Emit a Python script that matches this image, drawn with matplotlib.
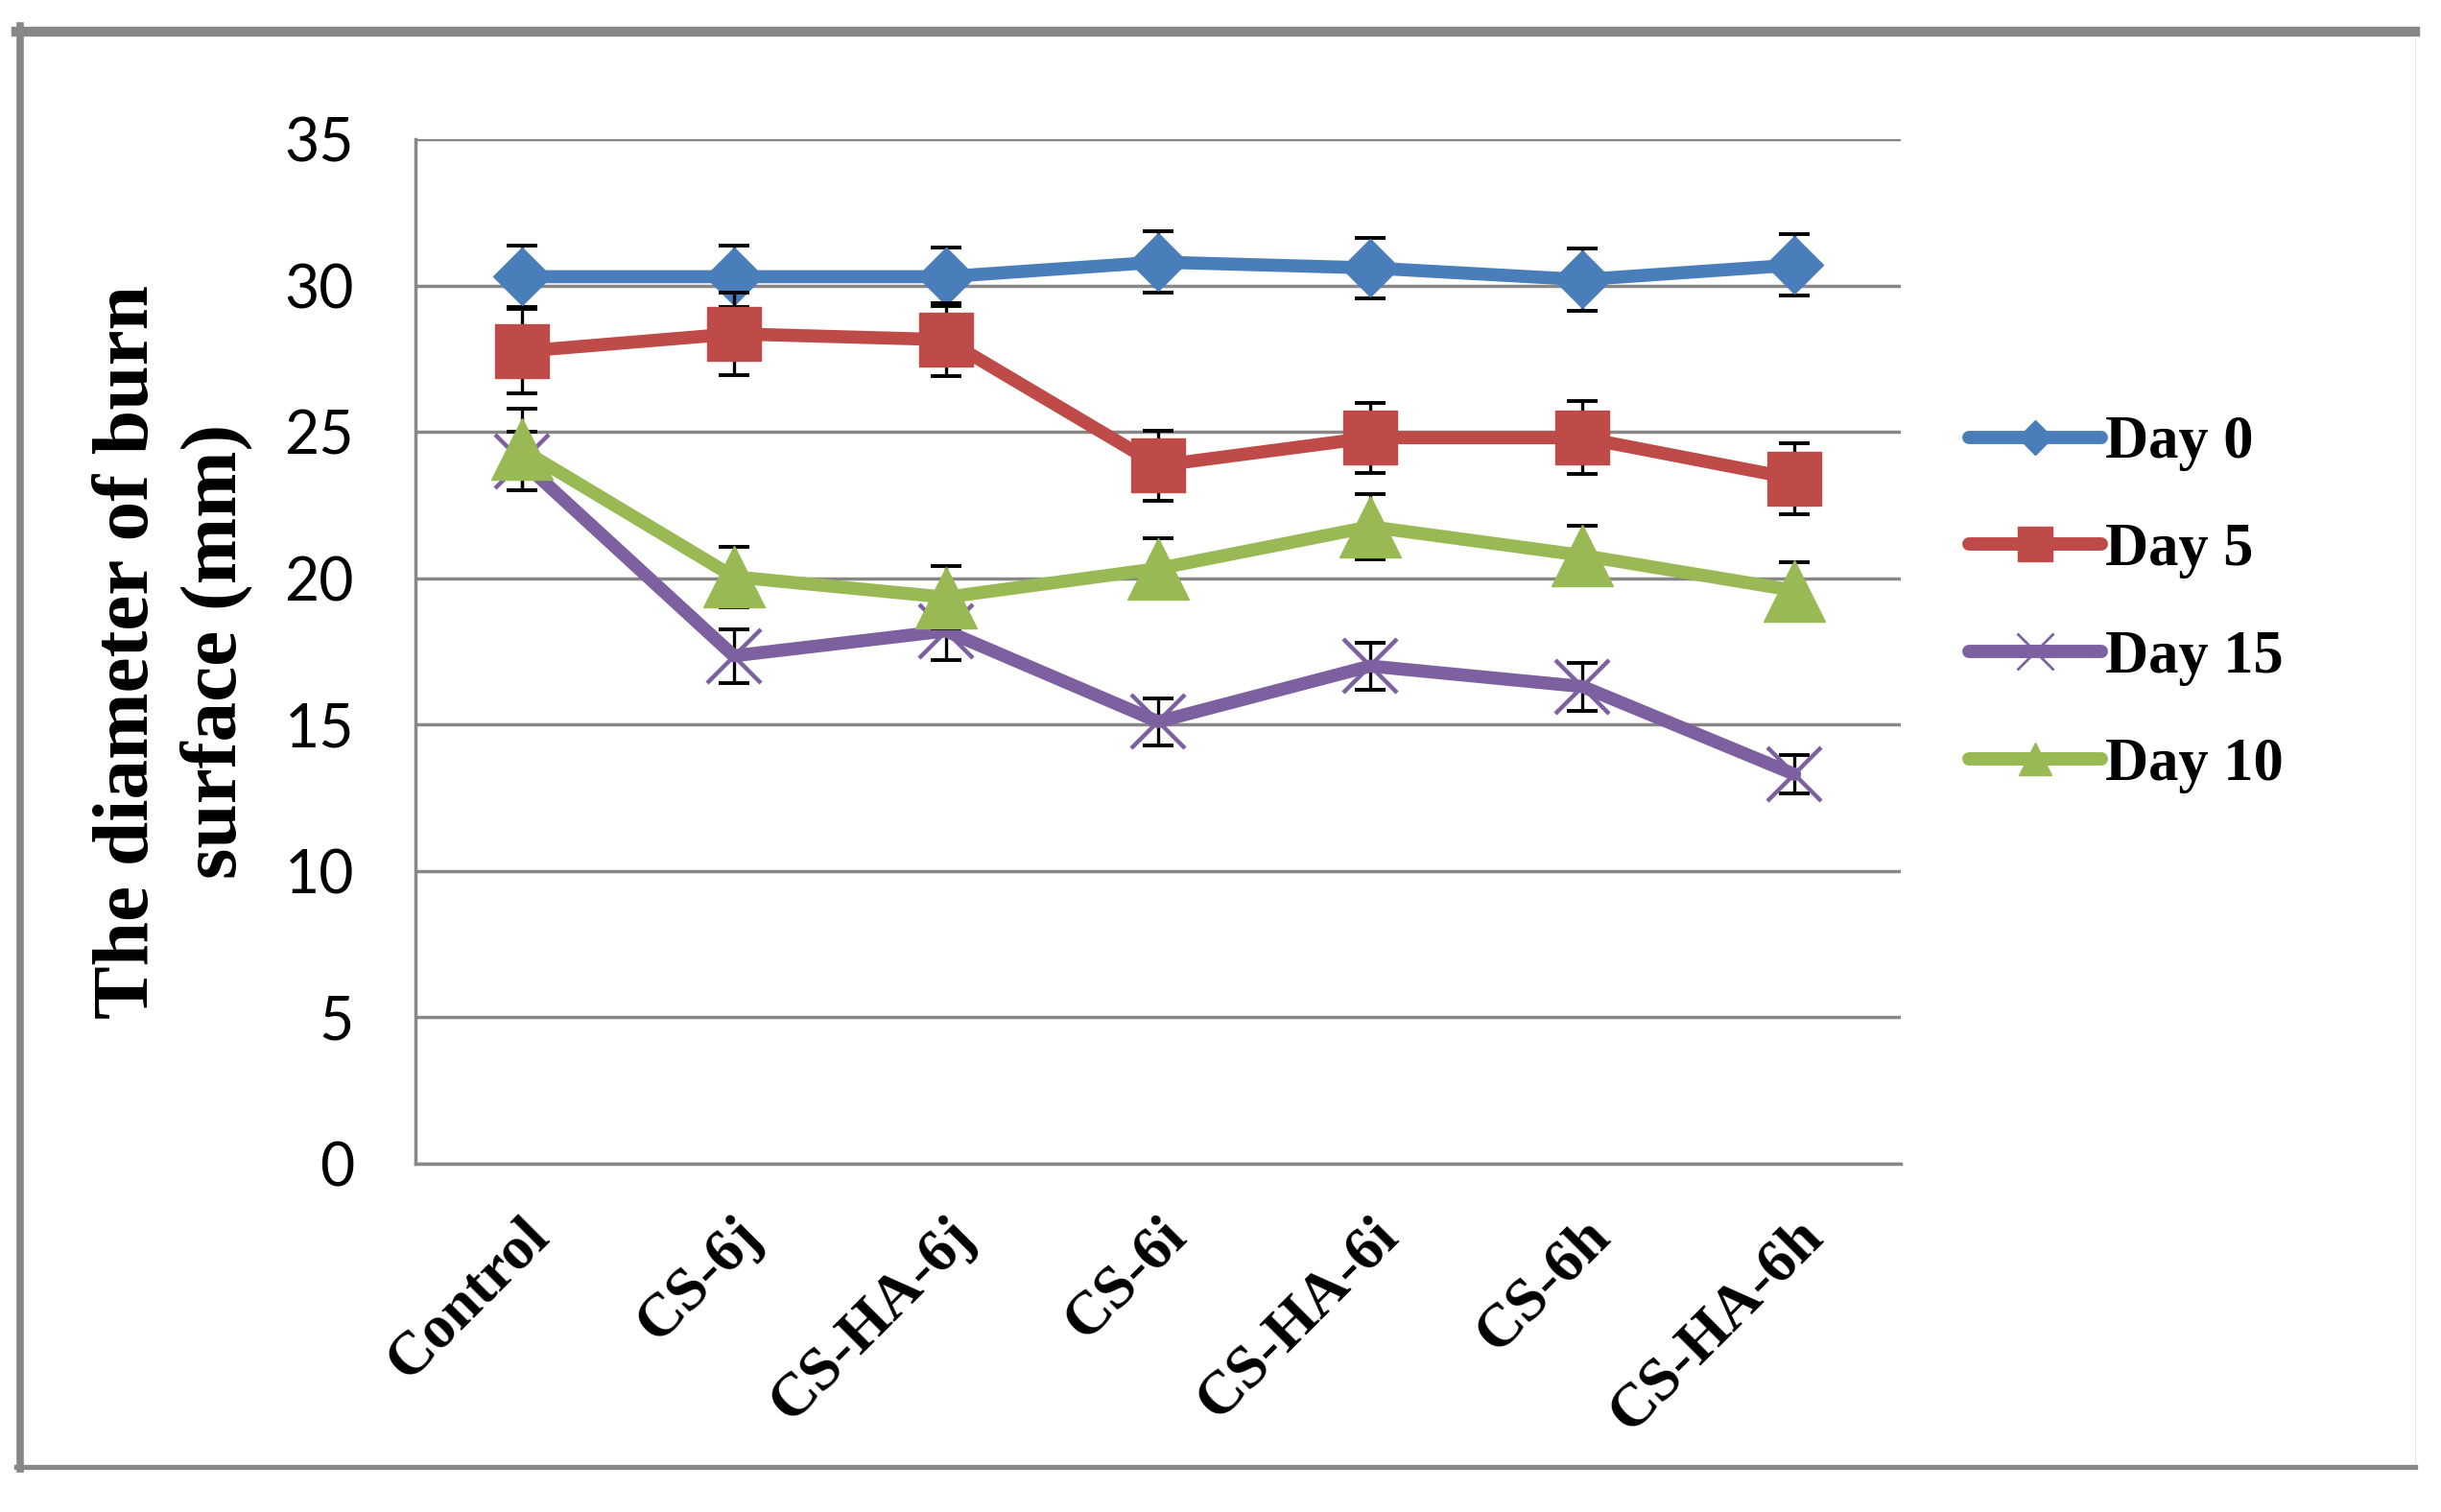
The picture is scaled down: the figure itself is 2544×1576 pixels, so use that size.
import matplotlib
matplotlib.use("Agg")
import matplotlib.pyplot as plt
from matplotlib.lines import Line2D

plt.rcParams['font.family'] = ['Liberation Serif', 'DejaVu Sans']

categories = ["Control", "CS-6j", "CS-HA-6j", "CS-6i", "CS-HA-6i", "CS-6h", "CS-HA-6h"]
series_names = ["Day 0", "Day 5", "Day 15", "Day 10"]

day0 = [30.3, 30.3, 30.3, 30.8, 30.6, 30.2, 30.7]
day0_err = [1.05, 1.05, 1.0, 1.05, 1.03, 1.05, 1.05]
day5 = [27.75, 28.35, 28.15, 23.85, 24.8, 24.8, 23.4]
day5_err = [1.45, 1.4, 1.25, 1.2, 1.2, 1.25, 1.2]
day15 = [24.0, 17.35, 18.2, 15.1, 17.0, 16.3, 13.3]
day15_err = [1.0, 0.92, 1.0, 0.8, 0.8, 0.82, 0.66]
day10 = [24.4, 20.05, 19.35, 20.33, 21.76, 20.78, 19.58]
day10_err = [1.4, 1.03, 1.07, 1.03, 1.1, 1.0, 0.97]

y_ticks = [0, 5, 10, 15, 20, 25, 30, 35]

values = [day0, day5, day15, day10]
errors = [day0_err, day5_err, day15_err, day10_err]
colors = ["#4A7EBB", "#BE4B48", "#7D60A0", "#98B954"]
markers = ["D", "s", "x", "^"]
msizes = [31, 40, 40, 46]
leg_msizes = [18, 26, 27, 25]

W, H = 2544, 1576
fig = plt.figure(figsize=(W / 100, H / 100), dpi=100)
ax = fig.add_axes([433 / W, 1 - 1213 / H, (1981 - 433) / W, (1213 - 145) / H])

x = list(range(len(categories)))
handles = []
for i, (name, vals, errs, c, m, ms, lms) in enumerate(
        zip(series_names, values, errors, colors, markers, msizes, leg_msizes)):
    z = 3 + i
    ax.errorbar(x, vals, yerr=errs, fmt='none', ecolor='black', elinewidth=2.4,
                capsize=11.5, capthick=2.8, zorder=z)
    mew = 3.2 if m == 'x' else 1.0
    ax.plot(x, vals, color=c, lw=9.8, marker=m, markersize=ms, mfc=c, mec=c,
            mew=mew, solid_joinstyle='round', solid_capstyle='round', zorder=z + 0.5)
    handles.append(Line2D([0], [0], color=c, lw=10, marker=m, markersize=lms,
                          mfc=c, mec=c, mew=2.0 if m == 'x' else 1.0,
                          solid_capstyle='round'))

ax.set_xlim(-0.5, len(categories) - 0.5)
ax.set_ylim(0, 35)
ax.set_yticks(y_ticks)
ax.set_yticklabels([str(t) for t in y_ticks], family=['Lato', 'DejaVu Sans'], fontsize=45)
ax.set_xticks(x)
ax.set_xticklabels(categories, rotation=45, ha='right', va='top',
                   fontsize=46, fontweight='bold')
for lab in ax.get_xticklabels():
    lab.set_rotation_mode('anchor')

ax.tick_params(axis='y', length=0, pad=46)
ax.tick_params(axis='x', length=0, pad=33)

ax.yaxis.grid(True, color='#878787', lw=2.5)
ax.set_axisbelow(True)
for s in ['top', 'right']:
    ax.spines[s].set_visible(False)
for s in ['left', 'bottom']:
    ax.spines[s].set_color('#878787')
    ax.spines[s].set_linewidth(2.5)

ax.set_ylabel("The diameter of burn\nsurface (mm)", fontsize=60, fontweight='bold',
              va='center', ha='center', linespacing=1.28)
ax.yaxis.set_label_coords((180 - 433) / (1981 - 433), 0.5)

leg = ax.legend(handles, series_names, loc='center left',
                bbox_to_anchor=(2052 / W, 1 - 630 / H), bbox_transform=fig.transFigure,
                frameon=False, borderpad=0, borderaxespad=0, handlelength=2.2,
                handletextpad=0.08, labelspacing=0.86,
                prop={'family': ['Liberation Serif', 'DejaVu Sans'], 'weight': 'bold', 'size': 45})

# outer frame
gray = '#878787'
fig.add_artist(Line2D([20.5 / W, 20.5 / W], [1 - 27 / H, 1 - 1531 / H],
                      transform=fig.transFigure, color=gray, lw=5.5))
fig.add_artist(Line2D([17 / W, 2517 / W], [1 - 32.5 / H, 1 - 32.5 / H],
                      transform=fig.transFigure, color=gray, lw=7.5))
fig.add_artist(Line2D([17 / W, 2517 / W], [1 - 1528.5 / H, 1 - 1528.5 / H],
                      transform=fig.transFigure, color=gray, lw=3.8))
fig.add_artist(Line2D([2516.5 / W, 2516.5 / W], [1 - 38 / H, 1 - 1526 / H],
                      transform=fig.transFigure, color='#e6e6e6', lw=0.8))

fig.savefig("out.png", dpi=100, facecolor='white')
